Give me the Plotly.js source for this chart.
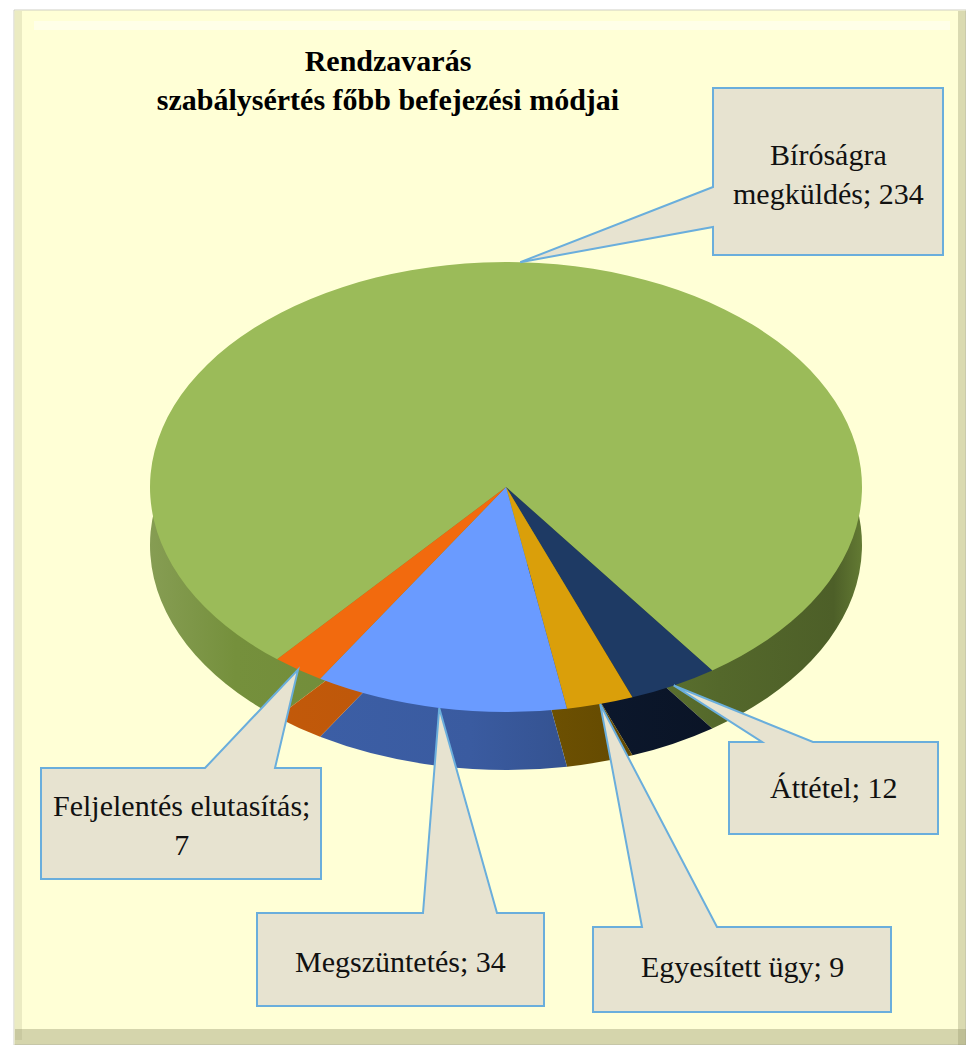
<!DOCTYPE html>
<html>
<head>
<meta charset="utf-8">
<script src="https://cdn.plot.ly/plotly-3.0.1.min.js"></script>
<style>
html,body{margin:0;padding:0;background:#ffffff;}
#chart{width:966px;height:1045px;}
</style>
</head>
<body>
<div id="chart"></div>
<script>
// ---- data ----
const categories = ['Bíróságra megküldés', 'Áttétel', 'Egyesített ügy', 'Megszüntetés', 'Feljelentés elutasítás'];
const values = [234, 12, 9, 34, 7];
const topColors = ['#9BBB59', '#1E3A64', '#DA9F0A', '#6A9BFF', '#F26A0E'];
const sideColors = ['#75903C', '#0E1C35', '#7C5C02', '#3D60A8', '#C45A0A'];
const labelBreak = ['firstSpace', 'none', 'none', 'none', 'beforeValue'];
const chartTitle = 'Rendzavarás<br>szabálysértés főbb befejezési módjai';

// ---- layout constants (pixels) ----
const W = 966, H = 1045;
const PIE_CX = 506, PIE_CY = 487, PIE_R = 356, TILT = 0.632, DEPTH = 58;
const callouts = [
  {box: [713, 88, 943, 255],  notch: {side: 'left', a: 187, b: 227}, text: [828, 174]},
  {box: [729, 742, 938, 834], notch: {side: 'top', a: 762, b: 813}, text: [833, 787]},
  {box: [593, 927, 891, 1012], notch: {side: 'top', a: 642, b: 717}, text: [742, 966]},
  {box: [257, 913, 544, 1006], notch: {side: 'top', a: 423, b: 497}, text: [400, 961]},
  {box: [41, 768, 321, 879],  notch: {side: 'top', a: 205, b: 275}, text: [181, 825]}
];

const px = x => x / W;
const py = y => 1 - y / H;
const FONT = 'Liberation Serif, Times New Roman, serif';

function labelText(i) {
  const c = categories[i], v = values[i];
  if (labelBreak[i] === 'firstSpace') return c.replace(' ', '<br>') + '; ' + v;
  if (labelBreak[i] === 'beforeValue') return c + ';<br>' + v;
  return c + '; ' + v;
}

function pieDomain(cy) {
  return {
    x: [px(PIE_CX - PIE_R), px(PIE_CX + PIE_R)],
    y: [py(cy + PIE_R), py(cy - PIE_R)]
  };
}

const common = {
  type: 'pie', labels: categories, values: values, sort: false,
  direction: 'clockwise', rotation: -140, textinfo: 'none', hoverinfo: 'none', showlegend: false
};

const data = [
  Object.assign({}, common, {name: 'depth', domain: pieDomain(PIE_CY + DEPTH),
    marker: {colors: sideColors, line: {width: 0}}}),
  Object.assign({}, common, {name: 'top', domain: pieDomain(PIE_CY),
    marker: {colors: topColors, line: {width: 0}}})
];

const bgShapes = [
  {type: 'rect', xref: 'paper', yref: 'paper', layer: 'below', x0: px(14), x1: px(966), y0: py(1045), y1: py(10),
   fillcolor: '#FFFFD6', line: {color: '#CFCFC4', width: 1}},
  {type: 'rect', xref: 'paper', yref: 'paper', layer: 'below', x0: px(34), x1: px(950), y0: py(30), y1: py(21),
   fillcolor: 'rgba(255,255,255,0.45)', line: {width: 0}},
  {type: 'rect', xref: 'paper', yref: 'paper', layer: 'below', x0: px(15), x1: px(22), y0: py(1040), y1: py(11),
   fillcolor: 'rgba(190,190,150,0.30)', line: {width: 0}},
  {type: 'rect', xref: 'paper', yref: 'paper', layer: 'below', x0: px(958), x1: px(966), y0: py(1045), y1: py(11),
   fillcolor: 'rgba(150,150,110,0.35)', line: {width: 0}},
  {type: 'rect', xref: 'paper', yref: 'paper', layer: 'below', x0: px(15), x1: px(966), y0: py(1045), y1: py(1029),
   fillcolor: 'rgba(150,150,110,0.40)', line: {width: 0}}
];

const textAnnotations = callouts.map((c, i) => ({
  xref: 'paper', yref: 'paper', x: px(c.text[0]), y: py(c.text[1]),
  xanchor: 'center', yanchor: 'middle', showarrow: false,
  text: labelText(i), align: 'center',
  font: {family: FONT, size: 30, color: '#111111'}
}));

const layout = {
  width: W, height: H,
  margin: {l: 0, r: 0, t: 0, b: 0},
  paper_bgcolor: '#FFFFFF',
  font: {family: FONT},
  showlegend: false,
  title: {
    text: chartTitle,
    x: px(388), xanchor: 'center', xref: 'paper',
    y: py(71), yanchor: 'middle', yref: 'container',
    font: {family: FONT, size: 30, color: '#000000', weight: 'bold'}
  },
  shapes: bgShapes,
  annotations: textAnnotations
};

const gd = document.getElementById('chart');

function calloutPath(c, tx, ty) {
  const [x0, y0, x1, y1] = c.box;
  let pts;
  if (c.notch.side === 'top') {
    pts = [[x0, y0], [c.notch.a, y0], [tx, ty], [c.notch.b, y0], [x1, y0], [x1, y1], [x0, y1]];
  } else {
    pts = [[x0, y0], [x1, y0], [x1, y1], [x0, y1], [x0, c.notch.b], [tx, ty], [x0, c.notch.a]];
  }
  return 'M' + pts.map(p => px(p[0]).toFixed(5) + ',' + py(p[1]).toFixed(5)).join('L') + 'Z';
}

function shade(hex, f) {
  const n = parseInt(hex.slice(1), 16);
  const ch = [(n >> 16) & 255, (n >> 8) & 255, n & 255].map(v => {
    const r = f >= 1 ? v + (255 - v) * (f - 1) : v * f;
    return Math.max(0, Math.min(255, Math.round(r)));
  });
  return 'rgb(' + ch.join(',') + ')';
}

Plotly.newPlot(gd, data, layout, {staticPlot: true, displayModeBar: false}).then(() => {
  // callout pointers go to the middle of each slice's front edge (library geometry)
  const topCd = gd.calcdata[1];
  const cx = topCd[0].cx, cy = topCd[0].cy;
  const calloutShapes = callouts.map((c, i) => {
    const pt = topCd[i];
    const tx = cx + pt.pxmid[0];
    const ty = cy + pt.pxmid[1] * TILT;
    return {type: 'path', xref: 'paper', yref: 'paper', layer: 'above',
      path: calloutPath(c, tx, ty), fillcolor: '#E7E3D0', line: {color: '#6AAEDC', width: 2}};
  });
  return Plotly.relayout(gd, {shapes: bgShapes.concat(calloutShapes)});
}).then(() => {
  // tilt the pies into an ellipse (pseudo-3D look)
  const groups = gd.querySelectorAll('.pielayer g.trace');
  groups.forEach((g, i) => {
    const c = gd.calcdata[i][0];
    g.setAttribute('transform', 'translate(0,' + c.cy + ') scale(1,' + TILT + ') translate(0,' + (-c.cy) + ')');
  });
  // horizontal lighting gradient on the side (depth) slices
  const svgNS = 'http://www.w3.org/2000/svg';
  const svg = gd.querySelector('svg.main-svg');
  let defs = svg.querySelector('defs');
  if (!defs) { defs = document.createElementNS(svgNS, 'defs'); svg.insertBefore(defs, svg.firstChild); }
  const c0 = gd.calcdata[0][0];
  const left = c0.cx - c0.r, right = c0.cx + c0.r;
  const sidePaths = groups[0].querySelectorAll('g.slice path.surface');
  sidePaths.forEach((p, i) => {
    const id = 'sidegrad' + i;
    const lg = document.createElementNS(svgNS, 'linearGradient');
    lg.setAttribute('id', id);
    lg.setAttribute('gradientUnits', 'userSpaceOnUse');
    lg.setAttribute('x1', left); lg.setAttribute('x2', right);
    lg.setAttribute('y1', 0); lg.setAttribute('y2', 0);
    [[0, 1.12], [0.12, 1.0], [0.45, 0.95], [0.8, 0.72], [0.96, 0.66], [1, 0.85]].forEach(([o, f]) => {
      const s = document.createElementNS(svgNS, 'stop');
      s.setAttribute('offset', o);
      s.setAttribute('stop-color', shade(sideColors[i], f));
      lg.appendChild(s);
    });
    defs.appendChild(lg);
    p.style.fill = 'url(#' + id + ')';
  });
});
</script>
</body>
</html>
